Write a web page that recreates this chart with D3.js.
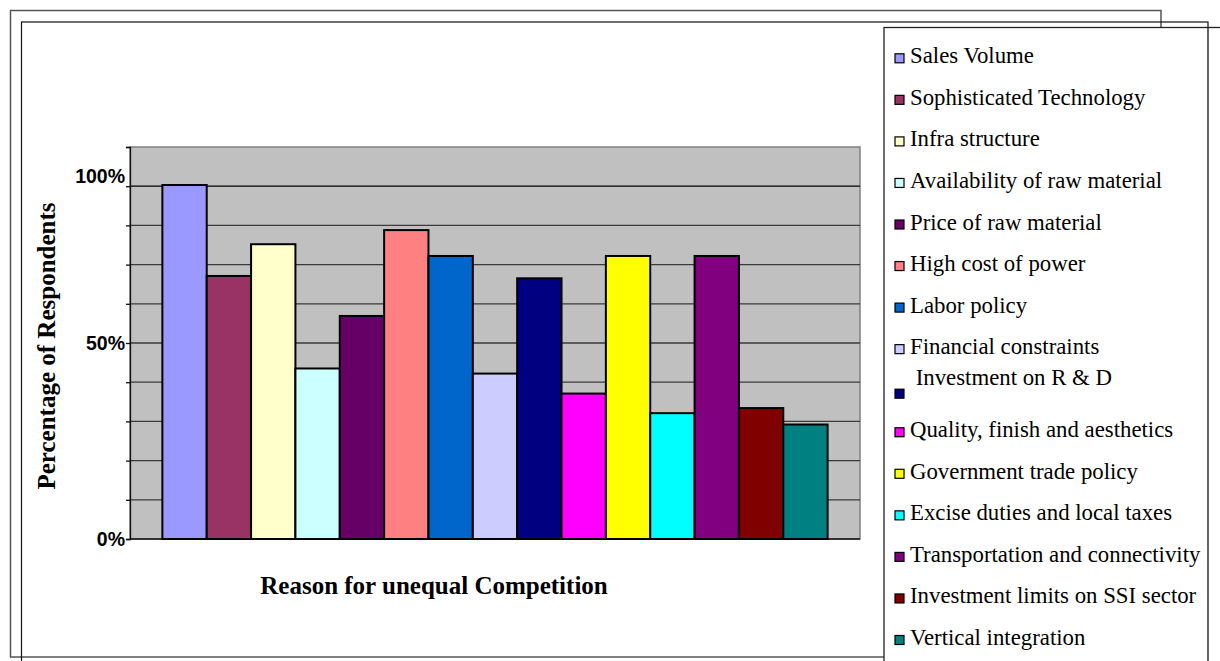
<!DOCTYPE html>
<html>
<head>
<meta charset="utf-8">
<script src="https://cdn.jsdelivr.net/npm/d3@7"></script>
<style>
  body { margin: 0; background: #fff; }
  svg { display: block; }
</style>
</head>
<body>
<svg></svg>
<script>
const reasons = [
    "Sales Volume",
    "Sophisticated Technology",
    "Infra structure",
    "Availability of raw material",
    "Price of raw material",
    "High cost of power",
    "Labor policy",
    "Financial constraints",
    "\u00a0Investment on R & D",
    "Quality, finish and aesthetics",
    "Government trade policy",
    "Excise duties and local taxes",
    "Transportation and connectivity",
    "Investment limits on SSI sector",
    "Vertical integration"
];

// percentage of respondents
const respondents = [90.3, 67.1, 75.2, 43.5, 56.9, 78.8, 72.2, 42.2, 66.5, 37.1, 72.2, 32.1, 72.2, 33.4, 29.2];

const barColors = [
    "#9999ff", "#993366", "#ffffcc", "#ccffff", "#660066",
    "#ff8080", "#0066cc", "#ccccff", "#000080", "#ff00ff",
    "#ffff00", "#00ffff", "#800080", "#800000", "#008080"
];

const gridValues = [0, 10, 20, 30, 40, 50, 60, 70, 80, 90, 100];
// the labels sit where the original chart put them
const yLabelValues = [0, 50, 92.7];
const yLabelText = ["0%", "50%", "100%"];

const serif = "'Liberation Serif', 'Times New Roman', serif";
const sans = "'Liberation Sans', Arial, sans-serif";

const width = 1220, height = 661;
const plot = { left: 130, right: 860, top: 147, bottom: 539 };

const svg = d3.select("svg")
    .attr("width", width)
    .attr("height", height);

// frames
svg.append("rect")
    .attr("x", 10.5).attr("y", 10.5)
    .attr("width", 1161 - 10.5).attr("height", 657 - 10.5)
    .attr("fill", "none").attr("stroke", "#555").attr("stroke-width", 1.5);
svg.append("rect")
    .attr("x", 21.5).attr("y", 22)
    .attr("width", 1208 - 21.5).attr("height", 700)
    .attr("fill", "none").attr("stroke", "#111").attr("stroke-width", 1.2);

const x = d3.scaleBand()
    .domain(reasons)
    .range([plot.left, plot.right])
    .paddingInner(0)
    .paddingOuter(0.73);

const y = d3.scaleLinear()
    .domain([0, 100])
    .range([plot.bottom, plot.top]);

// plot area
svg.append("rect")
    .attr("x", plot.left).attr("y", plot.top)
    .attr("width", plot.right - plot.left).attr("height", plot.bottom - plot.top)
    .attr("fill", "#c0c0c0")
    .attr("stroke", "#808080").attr("stroke-width", 1.5);

svg.append("g")
    .selectAll("line")
    .data(gridValues.filter(v => v > 0 && v < 100))
    .enter().append("line")
    .attr("x1", plot.left).attr("x2", plot.right)
    .attr("y1", d => y(d)).attr("y2", d => y(d))
    .attr("stroke", d => d === 90 ? "#000" : "#3a3a3a")
    .attr("stroke-width", 1.3);

// y axis with small ticks
const yAxis = d3.axisLeft(y)
    .tickValues(gridValues)
    .tickSize(4)
    .tickFormat("");
const yg = svg.append("g")
    .attr("transform", `translate(${plot.left},0)`)
    .call(yAxis);
yg.select(".domain").attr("stroke", "#111").attr("stroke-width", 1.3);
yg.selectAll(".tick line").attr("stroke", "#111").attr("stroke-width", 1.3);

svg.append("line")
    .attr("x1", plot.left).attr("x2", plot.right)
    .attr("y1", plot.bottom).attr("y2", plot.bottom)
    .attr("stroke", "#111").attr("stroke-width", 1.3);

svg.append("g")
    .selectAll("text")
    .data(yLabelValues)
    .enter().append("text")
    .attr("x", plot.left - 5)
    .attr("y", d => y(d))
    .attr("dy", "0.36em")
    .attr("text-anchor", "end")
    .style("font-family", sans)
    .style("font-weight", "bold")
    .style("font-size", "19.5px")
    .text((d, i) => yLabelText[i]);

// bars
svg.append("g")
    .selectAll("rect")
    .data(respondents)
    .enter().append("rect")
    .attr("x", (d, i) => x(reasons[i]))
    .attr("y", d => y(d))
    .attr("width", x.bandwidth())
    .attr("height", d => y(0) - y(d))
    .attr("fill", (d, i) => barColors[i])
    .attr("stroke", "#000")
    .attr("stroke-width", 2);

// axis titles
svg.append("text")
    .attr("x", 434).attr("y", 593.5)
    .attr("text-anchor", "middle")
    .style("font-family", serif)
    .style("font-weight", "bold")
    .style("font-size", "25px")
    .text("Reason for unequal Competition");

svg.append("text")
    .attr("transform", "translate(55,346) rotate(-90)")
    .attr("text-anchor", "middle")
    .style("font-family", serif)
    .style("font-weight", "bold")
    .style("font-size", "25px")
    .text("Percentage of Respondents");

// legend
svg.append("rect")
    .attr("x", 884).attr("y", 27.5)
    .attr("width", 400).attr("height", 700)
    .attr("fill", "#fff")
    .attr("stroke", "#222").attr("stroke-width", 1.3);
svg.append("line")
    .attr("x1", 1208).attr("x2", 1208)
    .attr("y1", 27.5).attr("y2", height)
    .attr("stroke", "#111").attr("stroke-width", 1.3);

const legendRow = d3.scaleLinear().domain([0, 14]).range([63.3, 645]);
const raised = d => d.startsWith("\u00a0");

const legend = svg.append("g")
    .selectAll("g")
    .data(reasons)
    .enter().append("g")
    .attr("transform", (d, i) => `translate(0,${legendRow(i)})`);

legend.append("rect")
    .attr("x", 895)
    .attr("y", d => raised(d) ? -6.5 : -9.5)
    .attr("width", 9).attr("height", 9)
    .attr("fill", (d, i) => barColors[i])
    .attr("stroke", "#000").attr("stroke-width", 1.2);

legend.append("text")
    .attr("x", 910)
    .attr("y", d => raised(d) ? -11 : 0)
    .style("font-family", serif)
    .style("font-size", "22.8px")
    .text(d => d);
</script>
</body>
</html>
